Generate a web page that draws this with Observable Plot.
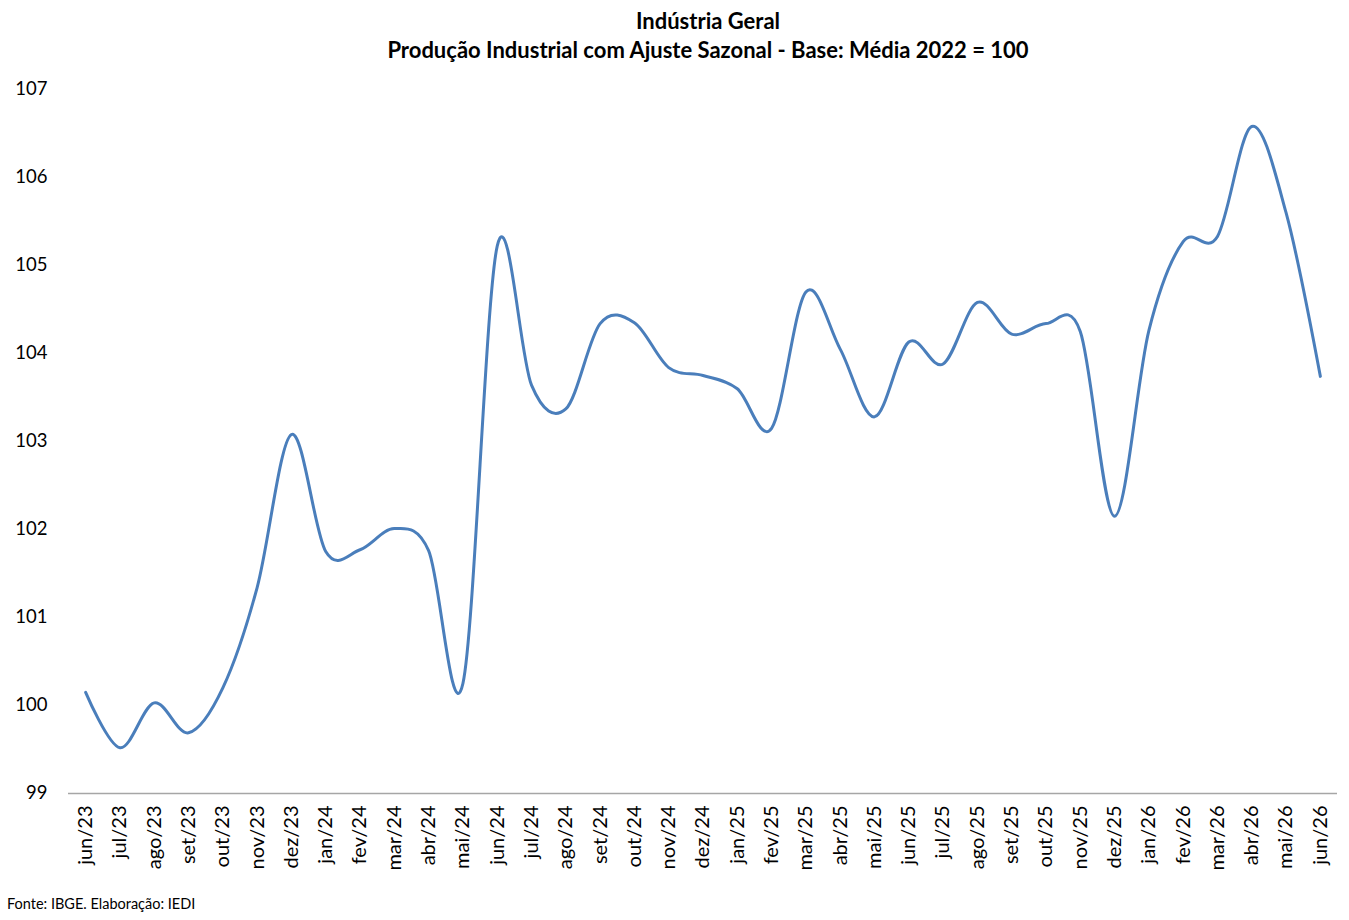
<!DOCTYPE html>
<html>
<head>
<meta charset="utf-8">
<script src="https://cdn.jsdelivr.net/npm/d3@7"></script>
<script src="https://cdn.jsdelivr.net/npm/@observablehq/plot@0.6"></script>
<style>
  html, body { margin: 0; padding: 0; background: #fff; }
  body { width: 1349px; font-family: Lato, "Open Sans", sans-serif; color: #000; }
  #title { width: 1349px; height: 65px; position: relative; }
  #title div { position: absolute; left: 0; width: 1416px; text-align: center; font-weight: bold; font-size: 22px; }
  #t1 { top: 7px; }
  #t2 { top: 36px; }
  #chart svg { display: block; }
  #foot { position: absolute; left: 7px; top: 895px; font-size: 14.5px; }
</style>
</head>
<body>
<div id="title"><div id="t1">Indústria Geral</div><div id="t2">Produção Industrial com Ajuste Sazonal - Base: Média 2022 = 100</div></div>
<div id="chart"></div>
<div id="foot">Fonte: IBGE. Elaboração: IEDI</div>
<script>
const months = ["jun/23","jul/23","ago/23","set/23","out/23","nov/23","dez/23",
  "jan/24","fev/24","mar/24","abr/24","mai/24","jun/24","jul/24","ago/24","set/24","out/24","nov/24","dez/24",
  "jan/25","fev/25","mar/25","abr/25","mai/25","jun/25","jul/25","ago/25","set/25","out/25","nov/25","dez/25",
  "jan/26","fev/26","mar/26","abr/26","mai/26","jun/26"];
const values = [100.15, 99.52, 100.03, 99.69, 100.20, 101.34, 103.08,
  101.75, 101.77, 102.01, 101.76, 100.25, 105.22, 103.64, 103.37, 104.34, 104.35, 103.84, 103.75,
  103.60, 103.15, 104.70, 104.05, 103.28, 104.13, 103.88, 104.58, 104.22, 104.34, 104.25, 102.15,
  104.26, 105.27, 105.33, 106.58, 105.60, 103.74];
const yTicks = [99, 100, 101, 102, 103, 104, 105, 106, 107];

const data = months.map((m, i) => ({month: m, value: values[i]}));

const chart = Plot.plot({
  width: 1349,
  height: 825,
  marginTop: 24,
  marginBottom: 97,
  marginLeft: 68,
  marginRight: 12,
  style: {fontFamily: "Lato, 'Open Sans', sans-serif", color: "#000", background: "#fff"},
  x: {type: "point", domain: months, padding: 0.5, round: false, label: null},
  y: {domain: [99, 107], ticks: yTicks, label: null},
  marks: [
    Plot.ruleY([99], {stroke: "#a6a6a6", strokeWidth: 1.3}),
    Plot.axisY({ticks: yTicks, tickSize: 0, tickPadding: 21, fontSize: 18.5, label: null, textAnchor: "end"}),
    Plot.axisX({tickSize: 0, tickPadding: 12, tickRotate: -90, fontSize: 20, label: null}),
    Plot.line(data, {x: "month", y: "value", stroke: "#4a7ebb", strokeWidth: 3, curve: "cardinal", tension: 0})
  ]
});
document.getElementById("chart").appendChild(chart);
</script>
</body>
</html>
